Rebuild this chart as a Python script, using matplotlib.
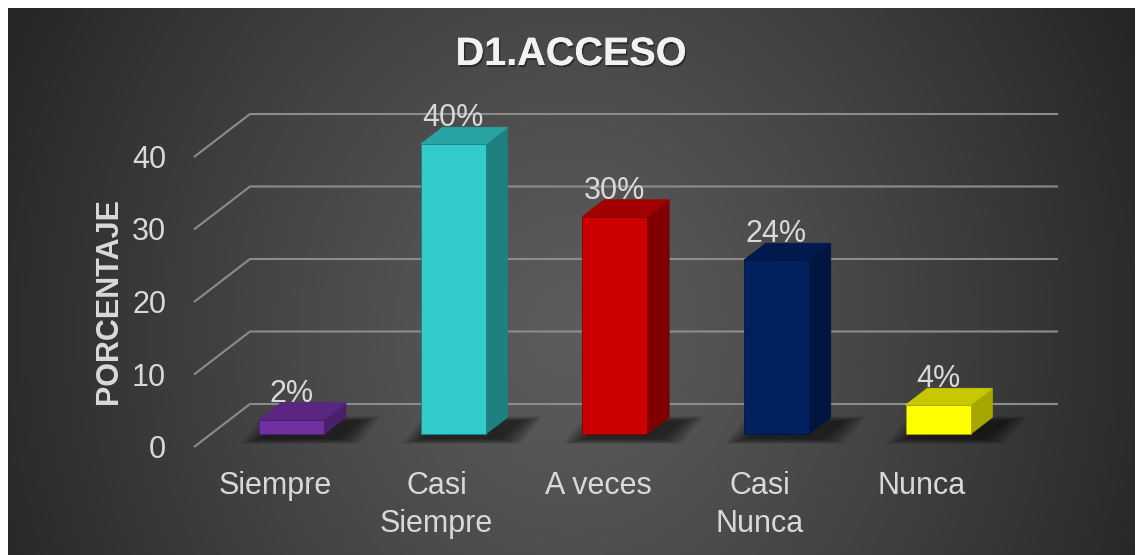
import numpy as np
import matplotlib
matplotlib.use('Agg')
import matplotlib.pyplot as plt
from matplotlib.patches import Polygon
from matplotlib.transforms import offset_copy
import matplotlib.patheffects as pe

# ---------------- data ----------------
categories = ['Siempre', 'Casi\nSiempre', 'A veces', 'Casi\nNunca', 'Nunca']
values = [2, 40, 30, 24, 4]
value_labels = ['2%', '40%', '30%', '24%', '4%']
yticks = [0, 10, 20, 30, 40]
front_colors = ['#7030A0', '#33CCCC', '#CC0000', '#002060', '#FFFF00']
top_colors = ['#5B2683', '#29A3A3', '#A30000', '#001A4D', '#C8C800']
side_colors = ['#4A1F6B', '#1F8080', '#800000', '#001540', '#A6A600']
title = 'D1.ACCESO'
ylabel = 'PORCENTAJE'

FONT = 'Liberation Sans'
TXT = '#D9D9D9'

W, H = 1137, 555
fig = plt.figure(figsize=(W / 100, H / 100), dpi=100, facecolor='white')

# ---------------- background (radial gradient) ----------------
bg = fig.add_axes([8 / W, 0, (1135 - 8) / W, (H - 8) / H])
yy, xx = np.mgrid[8:555, 8:1135]
r = np.sqrt(((xx - 570) / 620.0) ** 2 + ((yy - 330) / 700.0) ** 2)
r = np.clip(r, 0, 1)
c = (0x5C - (0x5C - 0x26) * r ** 1.2) / 255.0
bg.imshow(np.dstack([c, c, c]), aspect='auto', interpolation='bilinear')
bg.axis('off')

# ---------------- main axes ----------------
ax = fig.add_axes([0, 0, 1, 1])
ax.patch.set_alpha(0)
ax.axis('off')
PXC = 161.6      # pixels per category
PXV = 7.25       # pixels per value unit
ax.set_xlim(-194 / PXC - 0.5, (W - 194) / PXC - 0.5)
ax.set_ylim((447 - H) / PXV, 447 / PXV)

DX = 56 / PXC    # full depth offset in category units
DY = 43 / PXV    # full depth offset in value units
d0, d1 = 0.30, 0.69
hw = 32.5 / PXC
n = len(categories)

# gridlines (floor + back wall)
for t in yticks:
    ax.plot([-0.5, -0.5 + DX, n - 0.5 + DX], [t, t + DY, t + DY],
            color='#8C8C8C', lw=1.5, solid_capstyle='butt', zorder=1)

# bars
for i, v in enumerate(values):
    xl = i + d0 * DX - hw
    xr = i + d0 * DX + hw
    y0 = d0 * DY
    ddx = (d1 - d0) * DX
    ddy = (d1 - d0) * DY
    # soft shadow
    nl = 12
    for k in range(nl):
        e = (nl - k) * 2.0 / PXC
        ev = (nl - k) * 0.45 / PXV
        sh = Polygon([(xl - e + 0.03, y0 - 0.6 - ev),
                      (xr + e + 0.07, y0 - 0.6 - ev),
                      (xr + ddx + e + 0.07, y0 + ddy - 0.6 + ev),
                      (xl + ddx - e + 0.03, y0 + ddy - 0.6 + ev)],
                     closed=True, facecolor='black', edgecolor='none',
                     alpha=0.06, zorder=2)
        ax.add_patch(sh)
    side = Polygon([(xr, y0), (xr + ddx, y0 + ddy), (xr + ddx, y0 + ddy + v), (xr, y0 + v)],
                   closed=True, facecolor=side_colors[i], edgecolor=side_colors[i],
                   lw=0.6, zorder=3)
    top = Polygon([(xl, y0 + v), (xr, y0 + v), (xr + ddx, y0 + ddy + v), (xl + ddx, y0 + ddy + v)],
                  closed=True, facecolor=top_colors[i], edgecolor=top_colors[i],
                  lw=0.6, zorder=3)
    front = Polygon([(xl, y0), (xr, y0), (xr, y0 + v), (xl, y0 + v)],
                    closed=True, facecolor=front_colors[i], edgecolor=side_colors[i],
                    lw=0.6, zorder=4)
    ax.add_patch(side)
    ax.add_patch(top)
    ax.add_patch(front)
    # data label
    tr = offset_copy(ax.transData, fig=fig, x=0, y=1, units='dots')
    ax.text(i + d0 * DX, v + d1 * DY, value_labels[i], transform=tr,
            ha='center', va='baseline', fontsize=22, color=TXT, family=FONT, zorder=5)

# y tick labels
tr_tick = offset_copy(ax.transData, fig=fig, x=-28, y=-11, units='dots')
for t in yticks:
    ax.text(-0.5, t, str(t), transform=tr_tick, ha='right', va='baseline',
            fontsize=22, color=TXT, family=FONT)

# category labels
tr_cat = offset_copy(ax.transData, fig=fig, x=0, y=-24, units='dots')
for i, lab in enumerate(categories):
    ax.text(i, 0, lab, transform=tr_cat, ha='center', va='top', multialignment='center',
            fontsize=22, color=TXT, family=FONT, linespacing=1.35)

# y label
fig.text(117 / W, 1 - 301 / H, ylabel, rotation=90, rotation_mode='anchor',
         ha='center', va='baseline', fontsize=22, weight='bold', color=TXT, family=FONT)

# title
fig.text(571 / W, 1 - 65 / H, title, ha='center', va='baseline', fontsize=28.5,
         weight='bold', color='#F2F2F2', family=FONT,
         path_effects=[pe.withSimplePatchShadow(offset=(1, -1.5), shadow_rgbFace='black', alpha=0.4),
                       pe.Normal()])

fig.savefig('out.png', dpi=100, facecolor='white')
